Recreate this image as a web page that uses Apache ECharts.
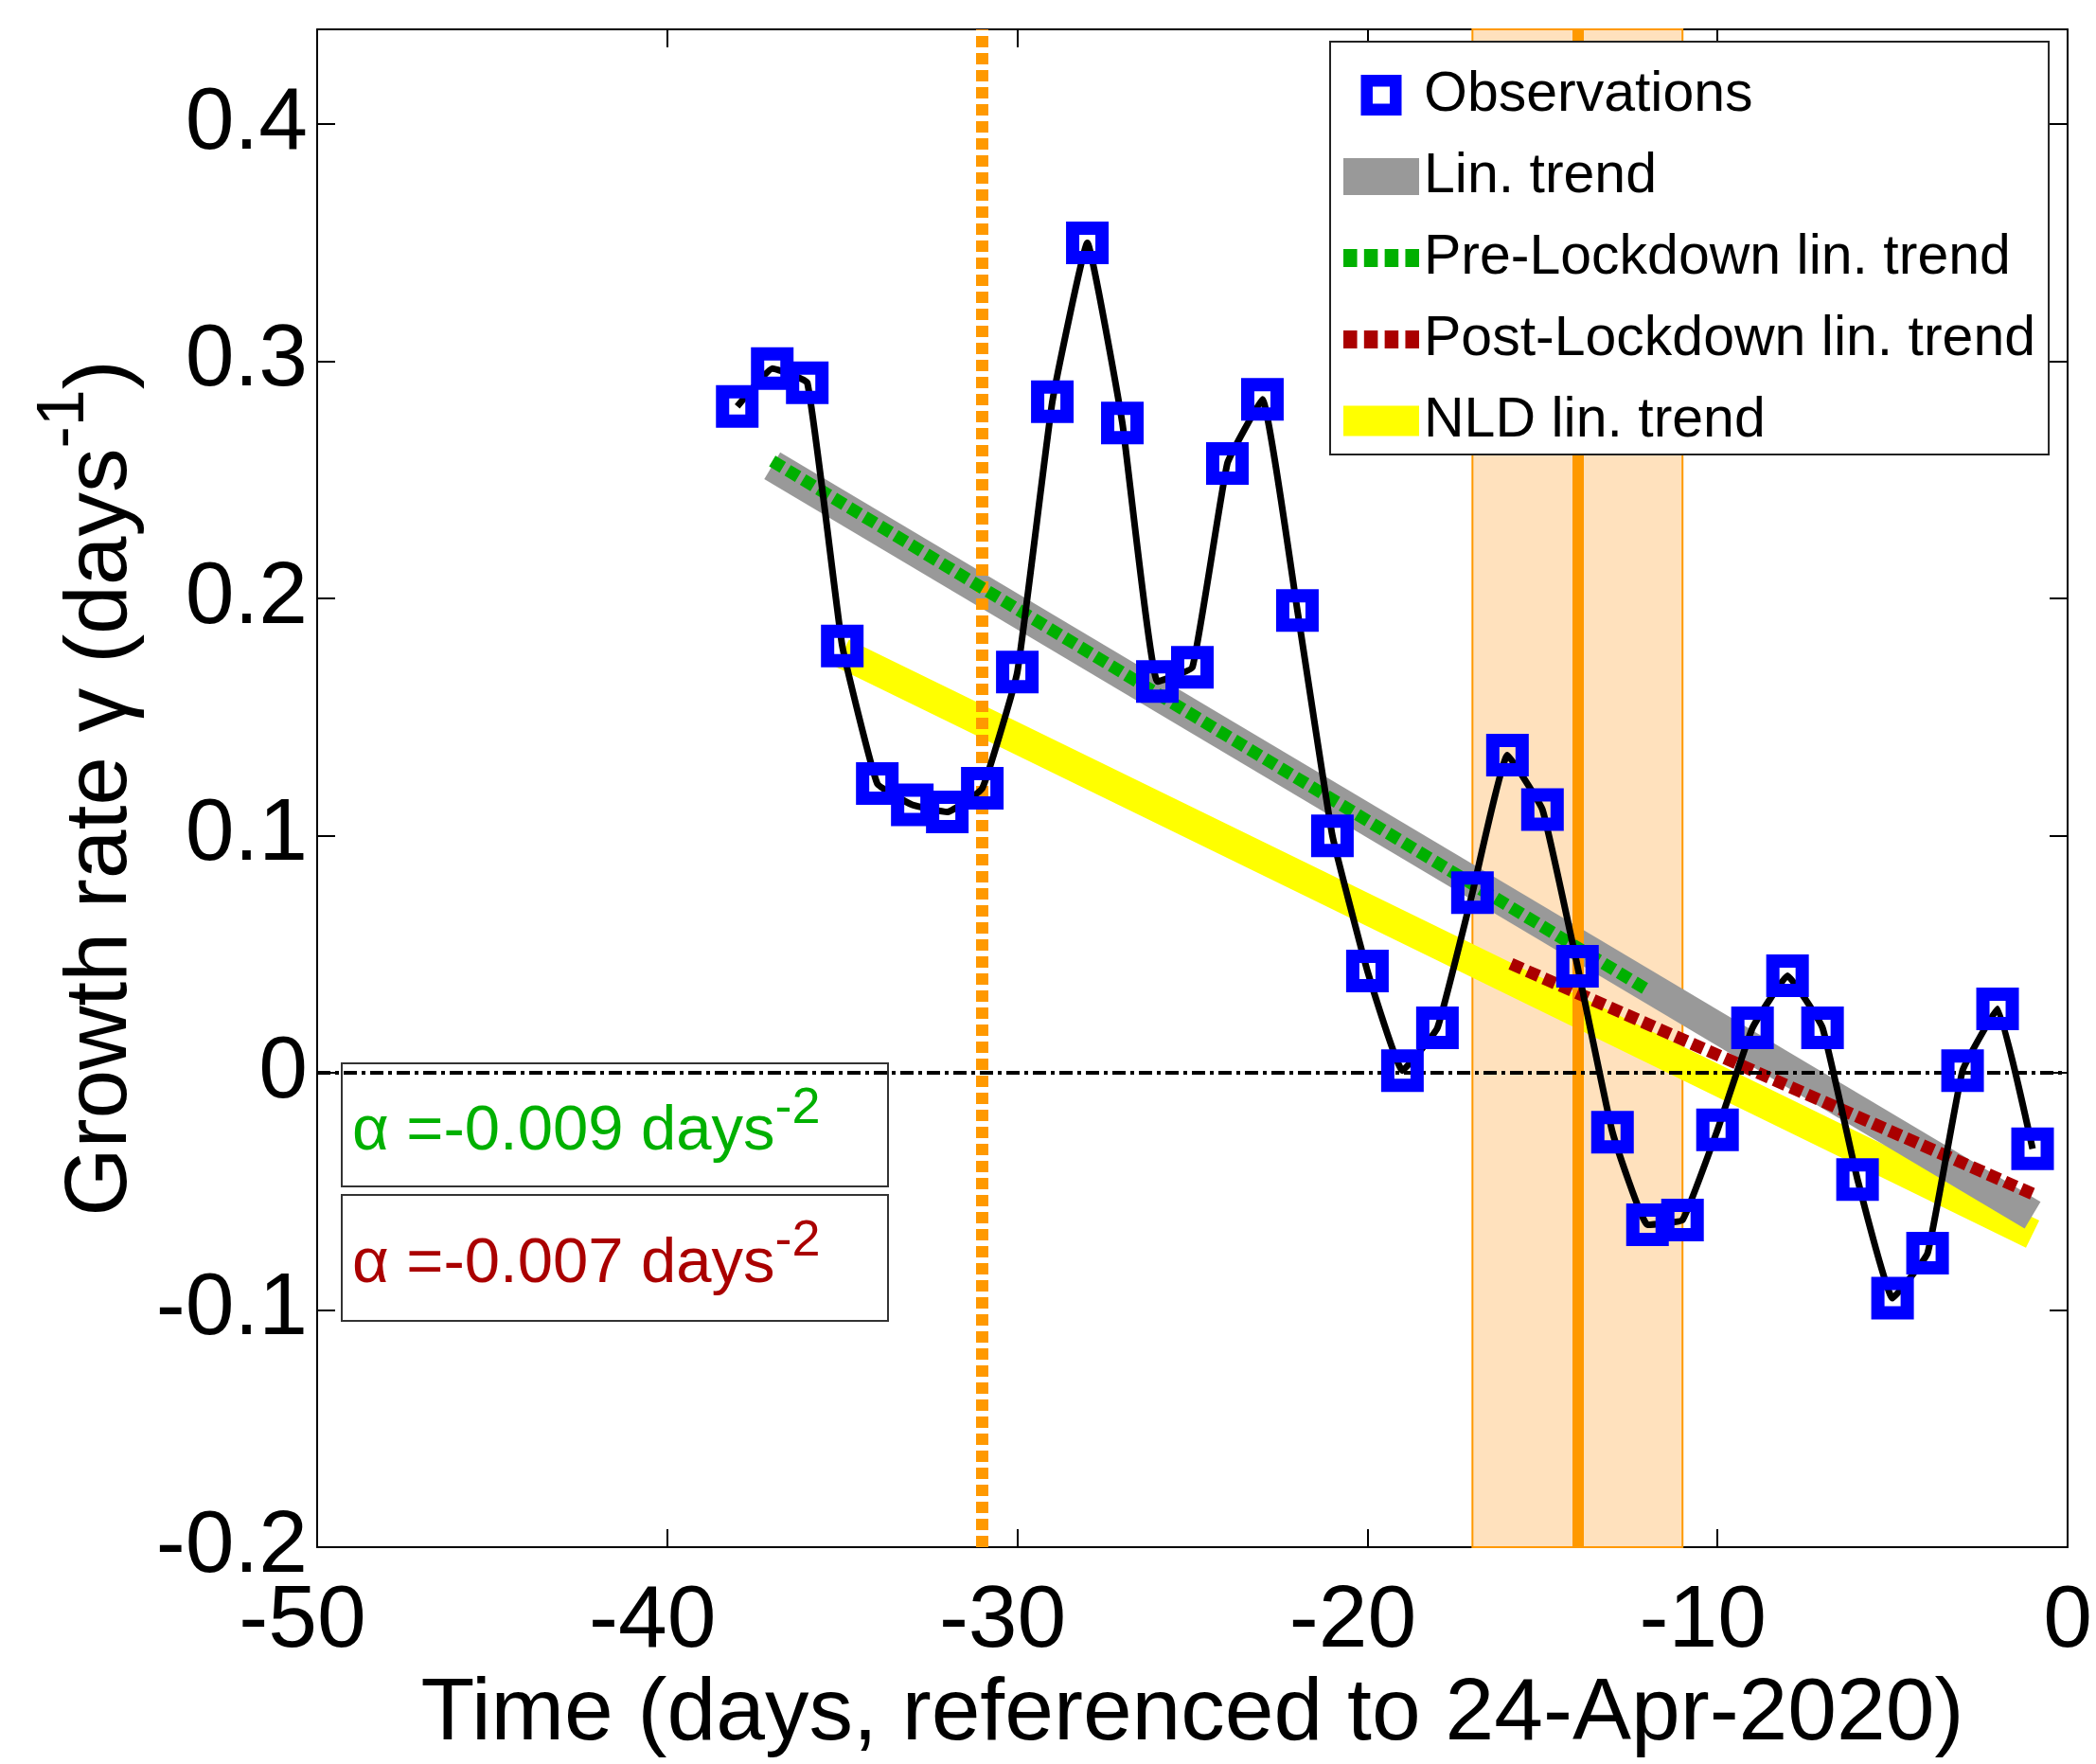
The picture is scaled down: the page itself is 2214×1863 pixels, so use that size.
<!DOCTYPE html>
<html>
<head>
<meta charset="utf-8">
<title>Growth rate</title>
<script src="https://cdn.jsdelivr.net/npm/echarts@6/dist/echarts.min.js"></script>
<style>
  html, body { margin: 0; padding: 0; background: #fff; }
  #chart { width: 2214px; height: 1863px; }
</style>
</head>
<body>
<div id="chart"></div>
<script>
// Daily growth-rate observations (days relative to 24-Apr-2020)
const days = [-38, -37, -36, -35, -34, -33, -32, -31, -30, -29, -28, -27, -26, -25, -24, -23, -22, -21, -20,
              -19, -18, -17, -16, -15, -14, -13, -12, -11, -10, -9, -8, -7, -6, -5, -4, -3, -2, -1];
const growthRate = [0.281, 0.297, 0.291, 0.180, 0.122, 0.113, 0.110, 0.120, 0.169, 0.283, 0.350, 0.274, 0.165, 0.171,
                    0.257, 0.284, 0.195, 0.100, 0.043, 0.001, 0.019, 0.076, 0.134, 0.111, 0.045, -0.025, -0.064, -0.062,
                    -0.024, 0.019, 0.041, 0.019, -0.045, -0.095, -0.076, 0.001, 0.027, -0.032];

// Fitted linear trends: [day, rate] end points
const linTrend = [[-37, 0.256], [-1, -0.060]];
const preLockdownTrend = [[-37, 0.258], [-12, 0.035]];
const postLockdownTrend = [[-15.9, 0.046], [-1, -0.051]];
const nldTrend = [[-35, 0.177], [-1, -0.068]];

// Slopes of the pre/post lockdown fits (days^-2)
const alphaPre = -0.009;
const alphaPost = -0.007;

// Event markers
const lockdownDay = -31;
const lockdownWindow = [-17, -11];
const lockdownWindowCenter = -14;

const FONT = "'Liberation Sans', Arial, Helvetica, sans-serif";
const ORANGE = '#ff9900';

const chart = echarts.init(document.getElementById('chart'), null, { renderer: 'canvas' });

function xLabel(v) {
  return v < 0 ? '{n|' + v + '}{p|}' : '{n|' + v + '}';
}
function yLabel(v) {
  if (Math.abs(v * 10 - Math.round(v * 10)) > 1e-6) return '';
  if (Math.abs(v) < 1e-9) return '0';
  return v.toFixed(1);
}

const axisLineStyle = { color: '#000', width: 2 };
const tickStyle = { inside: true, length: 19, lineStyle: { color: '#000', width: 2 } };
const dashIcon = 'path://M0,0h13v17h-13z M19.5,0h13v17h-13z M39,0h13v17h-13z M58.5,0h13v17h-13z';

function alphaText(value, color, top) {
  return {
    type: 'text', z: 7, silent: true, x: 372, y: top,
    style: {
      text: '{a|α =' + value.toFixed(3) + ' days}{s|-2}',
      verticalAlign: 'top', align: 'left',
      rich: {
        a: { fontSize: 67, lineHeight: 103, fontFamily: FONT, fill: color, verticalAlign: 'middle' },
        s: { fontSize: 54, lineHeight: 54, fontFamily: FONT, fill: color, verticalAlign: 'top' }
      }
    }
  };
}

const option = {
  animation: false,
  backgroundColor: '#fff',
  grid: { left: 335, right: 30, top: 31, bottom: 228, containLabel: false },
  xAxis: [
    {
      type: 'value', min: -50, max: 0, interval: 10, position: 'bottom',
      axisLine: { onZero: false, lineStyle: axisLineStyle },
      axisTick: tickStyle,
      splitLine: { show: false },
      axisLabel: {
        margin: 33, fontSize: 93, fontFamily: FONT, color: '#000',
        formatter: xLabel,
        rich: {
          n: { fontSize: 93, fontFamily: FONT, color: '#000' },
          p: { width: 31 }
        }
      },
      name: 'Time (days, referenced to 24-Apr-2020)',
      nameLocation: 'middle', nameGap: 124,
      nameTextStyle: { fontSize: 93, fontFamily: FONT, color: '#000' }
    },
    {
      type: 'value', min: -50, max: 0, interval: 10, position: 'top',
      axisLine: { onZero: false, lineStyle: axisLineStyle },
      axisTick: tickStyle,
      splitLine: { show: false },
      axisLabel: { show: false }
    }
  ],
  yAxis: [
    {
      type: 'value', min: -0.2, max: 0.44, interval: 0.1, position: 'left',
      axisLine: { onZero: false, lineStyle: axisLineStyle },
      axisTick: tickStyle,
      splitLine: { show: false },
      axisLabel: {
        margin: 10, fontSize: 93, fontFamily: FONT, color: '#000',
        padding: [14, 0, 0, 0],
        formatter: yLabel
      },
      name: '{a|Growth rate γ (days}{s|-1}{a|)}',
      nameLocation: 'middle', nameGap: 134,
      nameTextStyle: {
        fontSize: 93, fontFamily: FONT, color: '#000',
        rich: {
          a: { fontSize: 93, lineHeight: 147, fontFamily: FONT, color: '#000', verticalAlign: 'middle' },
          s: { fontSize: 70, lineHeight: 70, fontFamily: FONT, color: '#000', verticalAlign: 'top' }
        }
      }
    },
    {
      type: 'value', min: -0.2, max: 0.44, interval: 0.1, position: 'right',
      axisLine: { onZero: false, lineStyle: axisLineStyle },
      axisTick: tickStyle,
      splitLine: { show: false },
      axisLabel: { show: false }
    }
  ],
  legend: {
    orient: 'vertical', left: 1405, top: 44,
    padding: [27, 14, 6, 14],
    itemGap: 27, itemWidth: 80, itemHeight: 43, itemTextGap: 14,
    backgroundColor: '#fff', borderColor: '#222', borderWidth: 2, borderRadius: 0,
    z: 20, selectedMode: false,
    textStyle: { fontSize: 59, lineHeight: 59, fontFamily: FONT, color: '#000' },
    data: [
      { name: 'Observations', icon: 'path://M0,0H10V10H0Z M2.9,2.9V7.1H7.1V2.9Z',
        itemStyle: { color: '#0000ff', borderWidth: 0 } },
      { name: 'Lin. trend', icon: 'path://M0,0h80v39h-80z',
        itemStyle: { color: '#999999', borderWidth: 0 } },
      { name: 'Pre-Lockdown lin. trend', icon: dashIcon,
        itemStyle: { color: '#00b000', borderWidth: 0 } },
      { name: 'Post-Lockdown lin. trend', icon: dashIcon,
        itemStyle: { color: '#aa0000', borderWidth: 0 } },
      { name: 'NLD lin. trend', icon: 'path://M0,0h80v32h-80z',
        itemStyle: { color: '#ffff00', borderWidth: 0 } }
    ]
  },
  series: [
    {
      // lockdown window shading and event lines
      name: 'events', type: 'line', data: [], silent: true, z: 1,
      markArea: {
        silent: true, z: 1,
        itemStyle: { color: '#ffe1bd', borderColor: ORANGE, borderWidth: 2 },
        data: [[{ xAxis: lockdownWindow[0] }, { xAxis: lockdownWindow[1] }]]
      },
      markLine: {
        silent: true, z: 3, symbol: ['none', 'none'], label: { show: false },
        data: [
          { xAxis: lockdownWindowCenter, lineStyle: { color: ORANGE, width: 12, type: 'solid' } },
          { xAxis: lockdownDay, lineStyle: { color: ORANGE, width: 13, type: [12, 6] } }
        ]
      }
    },
    {
      name: 'NLD lin. trend', type: 'line', data: nldTrend, symbol: 'none', z: 2,
      color: '#ffff00', itemStyle: { color: '#ffff00' },
      lineStyle: { color: '#ffff00', width: 32, cap: 'butt' }
    },
    {
      name: 'Lin. trend', type: 'line', data: linTrend, symbol: 'none', z: 2,
      color: '#999999', itemStyle: { color: '#999999' },
      lineStyle: { color: '#999999', width: 33, cap: 'butt' }
    },
    {
      name: 'Pre-Lockdown lin. trend', type: 'line', data: preLockdownTrend, symbol: 'none', z: 4,
      color: '#00b000', itemStyle: { color: '#00b000' },
      lineStyle: { color: '#00b000', width: 13, type: [13, 6], cap: 'butt' }
    },
    {
      name: 'Post-Lockdown lin. trend', type: 'line', data: postLockdownTrend, symbol: 'none', z: 4,
      color: '#aa0000', itemStyle: { color: '#aa0000' },
      lineStyle: { color: '#aa0000', width: 13, type: [13, 6], cap: 'butt' }
    },
    {
      // zero reference line
      name: 'zero', type: 'line', data: [], silent: true, z: 5,
      markLine: {
        silent: true, z: 5, symbol: ['none', 'none'], label: { show: false },
        data: [{ yAxis: 0, lineStyle: { color: '#000', width: 4, type: [14, 5, 4, 5] } }]
      }
    },
    {
      name: 'Observations', type: 'line', z: 6,
      data: days.map((d, i) => [d, growthRate[i]]),
      smooth: 0.1, symbol: 'rect', symbolSize: 31, showAllSymbol: true,
      lineStyle: { color: '#000', width: 7 },
      itemStyle: { color: 'rgba(0,0,0,0)', borderColor: '#0000ff', borderWidth: 14 }
    }
  ],
  graphic: [
    {
      type: 'rect', z: 7, silent: true,
      shape: { x: 361, y: 1123, width: 577, height: 130 },
      style: { fill: 'none', stroke: '#333', lineWidth: 2 }
    },
    alphaText(alphaPre, '#00b000', 1144),
    {
      type: 'rect', z: 7, silent: true,
      shape: { x: 361, y: 1262, width: 577, height: 133 },
      style: { fill: 'none', stroke: '#333', lineWidth: 2 }
    },
    alphaText(alphaPost, '#aa0000', 1284)
  ]
};

chart.setOption(option);
</script>
</body>
</html>
